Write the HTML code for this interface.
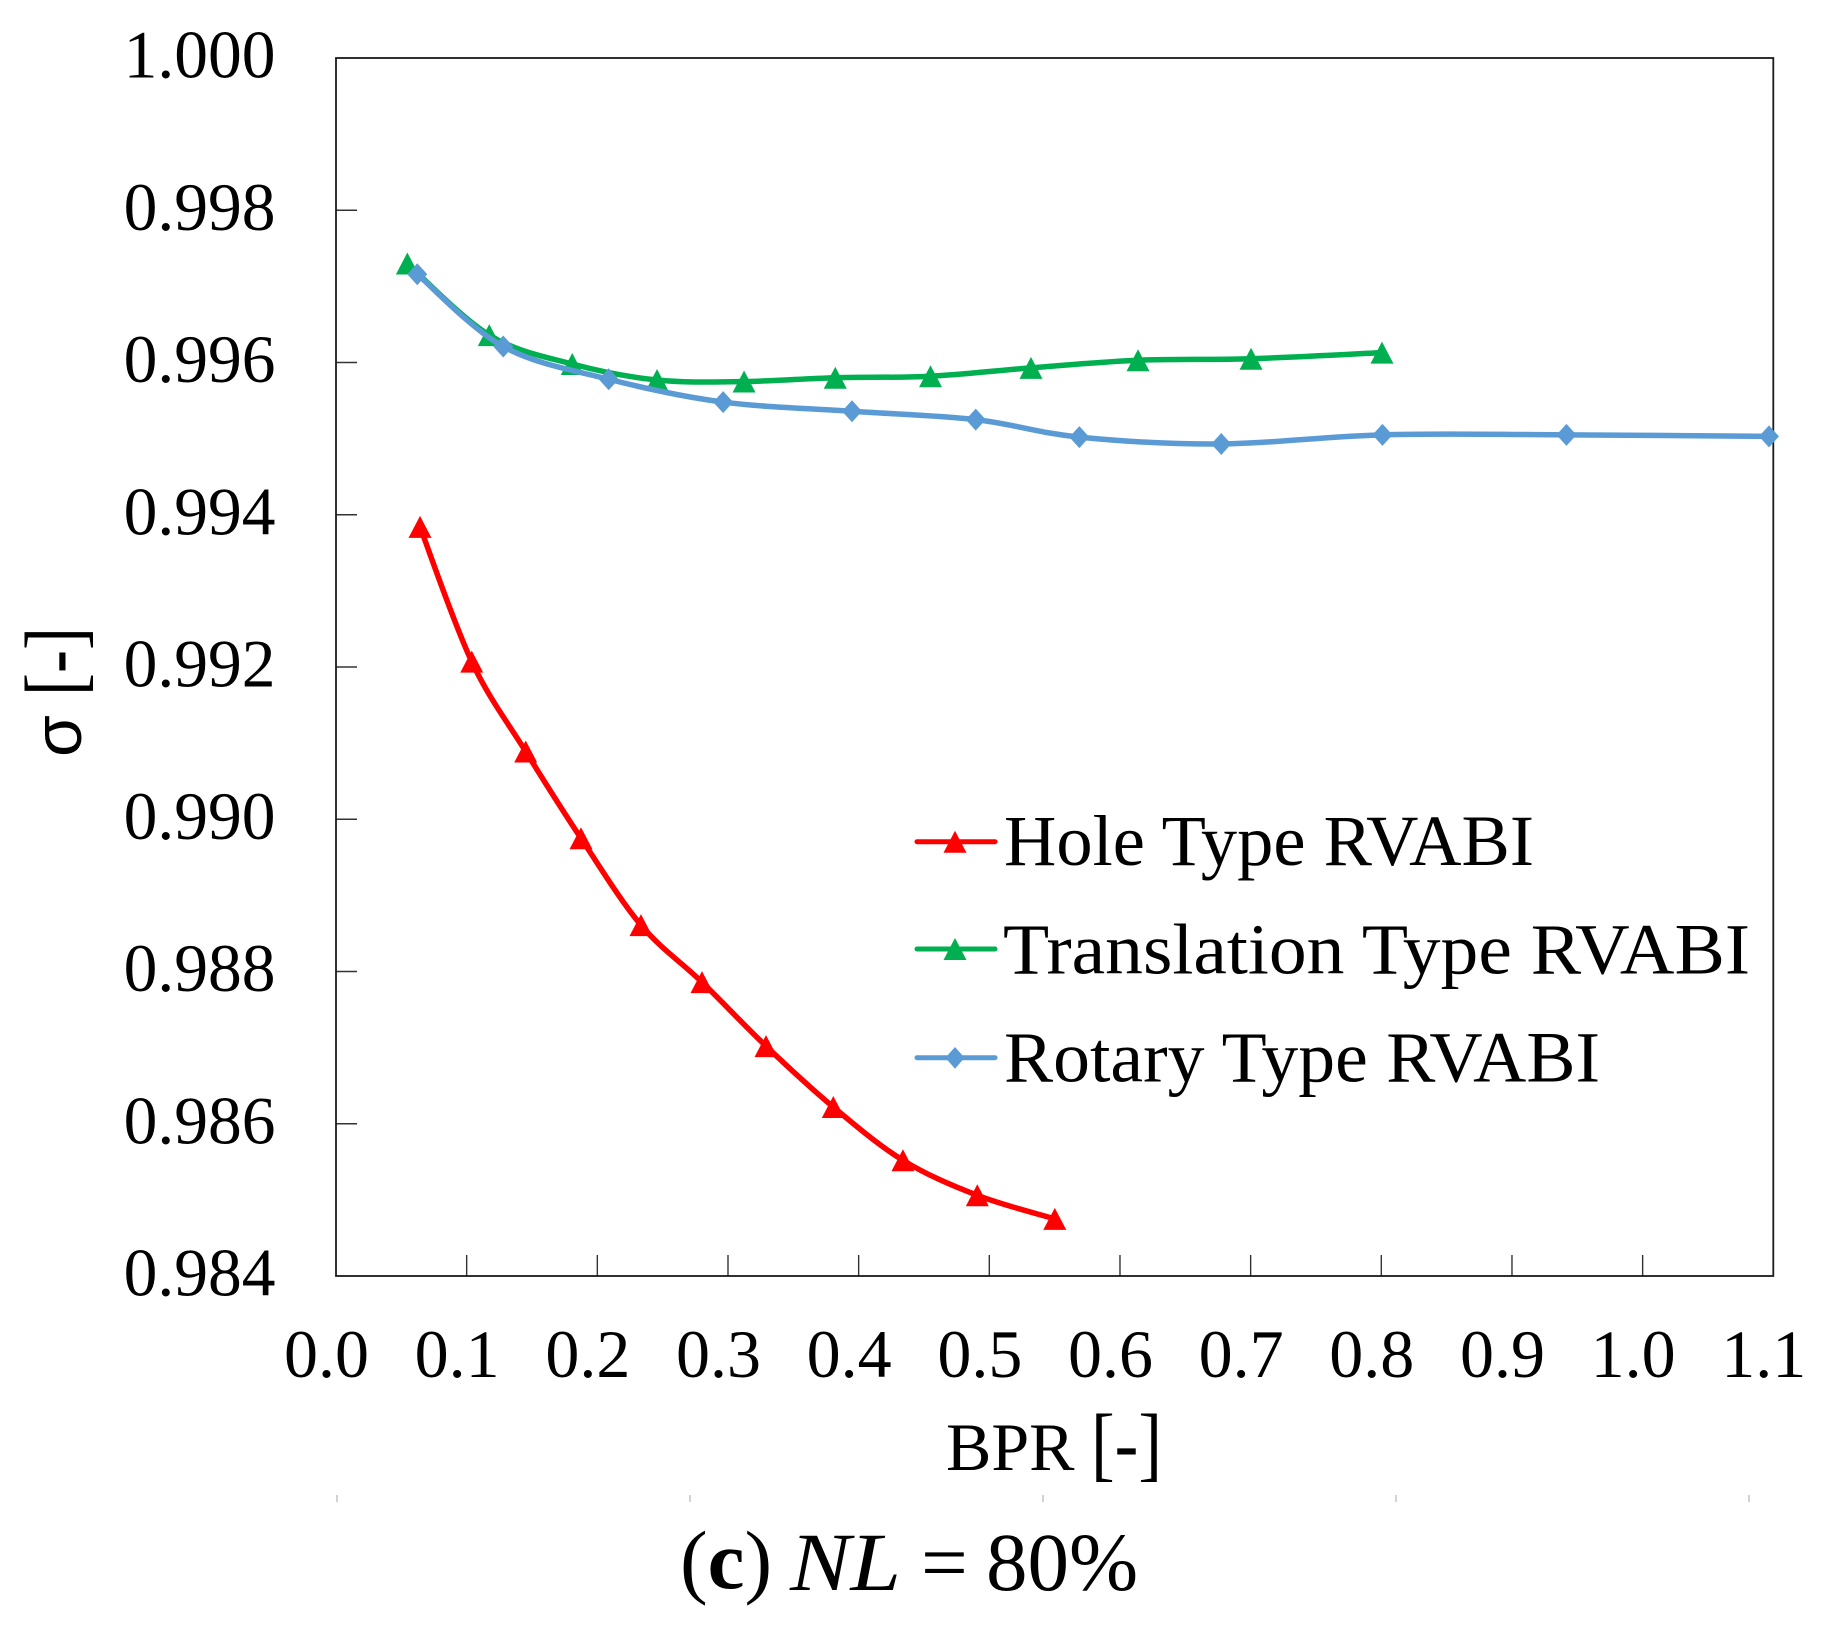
<!DOCTYPE html>
<html lang="en">
<head>
<meta charset="utf-8">
<title>Total pressure ratio vs BPR, NL = 80%</title>
<style>
  html, body { margin: 0; padding: 0; background: #ffffff; }
  svg { display: block; }
  text { font-family: "Liberation Serif", serif; fill: #000000; }
</style>
</head>
<body>
<svg id="chart" xmlns="http://www.w3.org/2000/svg" width="1822" height="1637" viewBox="0 0 1822 1637">
  <rect x="0" y="0" width="1822" height="1637" fill="#ffffff"/>
  <g id="ticks"></g>
  <g id="tick-labels"></g>
  <rect x="336" y="58" width="1437.3" height="1218" fill="none" stroke="#1a1a1a" stroke-width="1.8"/>
  <g id="series"></g>

  <g>
    <text transform="translate(81 757) rotate(-90)" font-size="68" style="font-family:'Liberation Sans',sans-serif">σ</text>
    <text transform="translate(82 696) rotate(-90)" font-size="83" textLength="69" lengthAdjust="spacingAndGlyphs">[-]</text>
  </g>
  <g>
    <text x="946" y="1470" font-size="68">BPR</text>
    <text x="1091" y="1471" font-size="83" textLength="71" lengthAdjust="spacingAndGlyphs">[-]</text>
  </g>

  <g>
    <g>
      <line x1="917" y1="841.7" x2="995" y2="841.7" stroke="#ff0000" stroke-width="5" stroke-linecap="round"/>
      <polygon points="955,830.7 966.5,852.7 943.5,852.7" fill="#ff0000"/>
      <text x="1004" y="865" font-size="72" textLength="530" lengthAdjust="spacingAndGlyphs">Hole Type RVABI</text>
    </g>
    <g>
      <line x1="917" y1="949" x2="995" y2="949" stroke="#00b050" stroke-width="5" stroke-linecap="round"/>
      <polygon points="955,938 966.5,960 943.5,960" fill="#00b050"/>
      <text x="1003" y="973.3" font-size="72" textLength="747" lengthAdjust="spacingAndGlyphs">Translation Type RVABI</text>
    </g>
    <g>
      <line x1="917" y1="1057.7" x2="995" y2="1057.7" stroke="#5b9bd5" stroke-width="5" stroke-linecap="round"/>
      <polygon points="955,1047 964.6,1057.7 955,1068.7 945.4,1057.7" fill="#5b9bd5"/>
      <text x="1004" y="1081.7" font-size="72" textLength="596" lengthAdjust="spacingAndGlyphs">Rotary Type RVABI</text>
    </g>
  </g>

  <g stroke="#c8c8c8" stroke-width="1.6">
    <line x1="337" y1="1495" x2="337" y2="1502"/>
    <line x1="690" y1="1495" x2="690" y2="1502"/>
    <line x1="1043" y1="1495" x2="1043" y2="1502"/>
    <line x1="1396" y1="1495" x2="1396" y2="1502"/>
    <line x1="1749" y1="1495" x2="1749" y2="1502"/>
  </g>

  <g>
    <text x="680" y="1588" font-size="83">(<tspan font-weight="bold">c</tspan>)</text>
    <text x="790" y="1590" font-size="83" font-style="italic" textLength="111" lengthAdjust="spacingAndGlyphs">NL</text>
    <text x="921" y="1590" font-size="83">=</text>
    <text x="986" y="1590" font-size="83">80%</text>
  </g>
</svg>

<script>
const xTickLabels = ['0.0','0.1','0.2','0.3','0.4','0.5','0.6','0.7','0.8','0.9','1.0','1.1'];
const yTickLabels = ['1.000','0.998','0.996','0.994','0.992','0.990','0.988','0.986','0.984'];

const holeBpr = [0.0643,0.1039,0.1452,0.1875,0.2334,0.2801,0.3291,0.3806,0.4339,0.4908,0.5501];
const holeSigma = [0.99384,0.99207,0.99089,0.98975,0.98861,0.98786,0.98702,0.98622,0.98552,0.98506,0.98475];
const translationBpr = [0.0546,0.1173,0.1808,0.2457,0.3123,0.3821,0.4550,0.5319,0.6138,0.7003,0.8005];
const translationSigma = [0.99730,0.99636,0.99598,0.99577,0.99575,0.99580,0.99582,0.99593,0.99603,0.99605,0.99613];
const rotaryBpr = [0.0622,0.1280,0.2087,0.2963,0.3949,0.4896,0.5689,0.6775,0.8009,0.9417,1.0967];
const rotarySigma = [0.99716,0.99621,0.99578,0.99548,0.99536,0.99525,0.99502,0.99493,0.99505,0.99505,0.99503];

const SVG_NS = 'http://www.w3.org/2000/svg';
const plotLeft = 336, plotRight = 1773.3, plotTop = 58, plotBottom = 1276;
const xMin = 0, xMax = 1.1, yMin = 0.984, yMax = 1.0;

function xScale(v) { return plotLeft + (v - xMin) / (xMax - xMin) * (plotRight - plotLeft); }
function yScale(v) { return plotTop + (yMax - v) / (yMax - yMin) * (plotBottom - plotTop); }

const tickGroup = document.getElementById('ticks');
const labelGroup = document.getElementById('tick-labels');
const seriesGroup = document.getElementById('series');

xTickLabels.forEach(function (label) {
  const v = parseFloat(label);
  const px = xScale(v);
  const t = document.createElementNS(SVG_NS, 'text');
  
  
  t.setAttribute('x', px - 9.5);
  t.setAttribute('y', 1377);
  t.setAttribute('font-size', 68);
  t.setAttribute('text-anchor', 'middle');
  t.textContent = label;
  labelGroup.appendChild(t);
  if (v > xMin && v < xMax) {
    const l = document.createElementNS(SVG_NS, 'line');
    
    
    l.setAttribute('x1', px);
    l.setAttribute('x2', px);
    l.setAttribute('y1', plotBottom);
    l.setAttribute('y2', plotBottom - 21);
    l.setAttribute('stroke', '#333333');
    l.setAttribute('stroke-width', 1.4);
    tickGroup.appendChild(l);
  }
});

yTickLabels.forEach(function (label) {
  const v = parseFloat(label);
  const py = yScale(v);
  const t = document.createElementNS(SVG_NS, 'text');
  
  
  t.setAttribute('x', 275.5);
  t.setAttribute('y', py + 19.5);
  t.setAttribute('font-size', 67.5);
  t.setAttribute('text-anchor', 'end');
  t.textContent = label;
  labelGroup.appendChild(t);
  if (v > yMin && v < yMax) {
    const l = document.createElementNS(SVG_NS, 'line');
    
    
    l.setAttribute('x1', plotLeft);
    l.setAttribute('x2', plotLeft + 21);
    l.setAttribute('y1', py);
    l.setAttribute('y2', py);
    l.setAttribute('stroke', '#333333');
    l.setAttribute('stroke-width', 1.4);
    tickGroup.appendChild(l);
  }
});

function smoothPath(pts) {
  let d = 'M' + pts[0][0].toFixed(2) + ' ' + pts[0][1].toFixed(2);
  for (let i = 0; i < pts.length - 1; i++) {
    const p0 = pts[Math.max(i - 1, 0)];
    const p1 = pts[i];
    const p2 = pts[i + 1];
    const p3 = pts[Math.min(i + 2, pts.length - 1)];
    const c1x = p1[0] + (p2[0] - p0[0]) / 6;
    const c1y = p1[1] + (p2[1] - p0[1]) / 6;
    const c2x = p2[0] - (p3[0] - p1[0]) / 6;
    const c2y = p2[1] - (p3[1] - p1[1]) / 6;
    d += ' C' + c1x.toFixed(2) + ' ' + c1y.toFixed(2) + ' ' + c2x.toFixed(2) + ' ' + c2y.toFixed(2) + ' ' + p2[0].toFixed(2) + ' ' + p2[1].toFixed(2);
  }
  return d;
}

function markerPoints(shape, cx, cy) {
  if (shape === 'diamond') {
    return cx + ',' + (cy - 11) + ' ' + (cx + 10) + ',' + cy + ' ' + cx + ',' + (cy + 11) + ' ' + (cx - 10) + ',' + cy;
  }
  return cx + ',' + (cy - 11) + ' ' + (cx + 11.5) + ',' + (cy + 11) + ' ' + (cx - 11.5) + ',' + (cy + 11);
}

function drawSeries(xs, ys, color, shape, seriesName) {
  const pts = xs.map(function (x, i) { return [xScale(x), yScale(ys[i])]; });
  const path = document.createElementNS(SVG_NS, 'path');
  
  
  path.setAttribute('d', smoothPath(pts));
  path.setAttribute('fill', 'none');
  path.setAttribute('stroke', color);
  path.setAttribute('stroke-width', 5.5);
  path.setAttribute('stroke-linejoin', 'round');
  seriesGroup.appendChild(path);
  pts.forEach(function (p) {
    const m = document.createElementNS(SVG_NS, 'polygon');
    
    
    m.setAttribute('points', markerPoints(shape, p[0], p[1]));
    m.setAttribute('fill', color);
    seriesGroup.appendChild(m);
  });
}

drawSeries(holeBpr, holeSigma, '#ff0000', 'triangle', 'hole-series');
drawSeries(translationBpr, translationSigma, '#00b050', 'triangle', 'translation-series');
drawSeries(rotaryBpr, rotarySigma, '#5b9bd5', 'diamond', 'rotary-series');
</script>
</body>
</html>
